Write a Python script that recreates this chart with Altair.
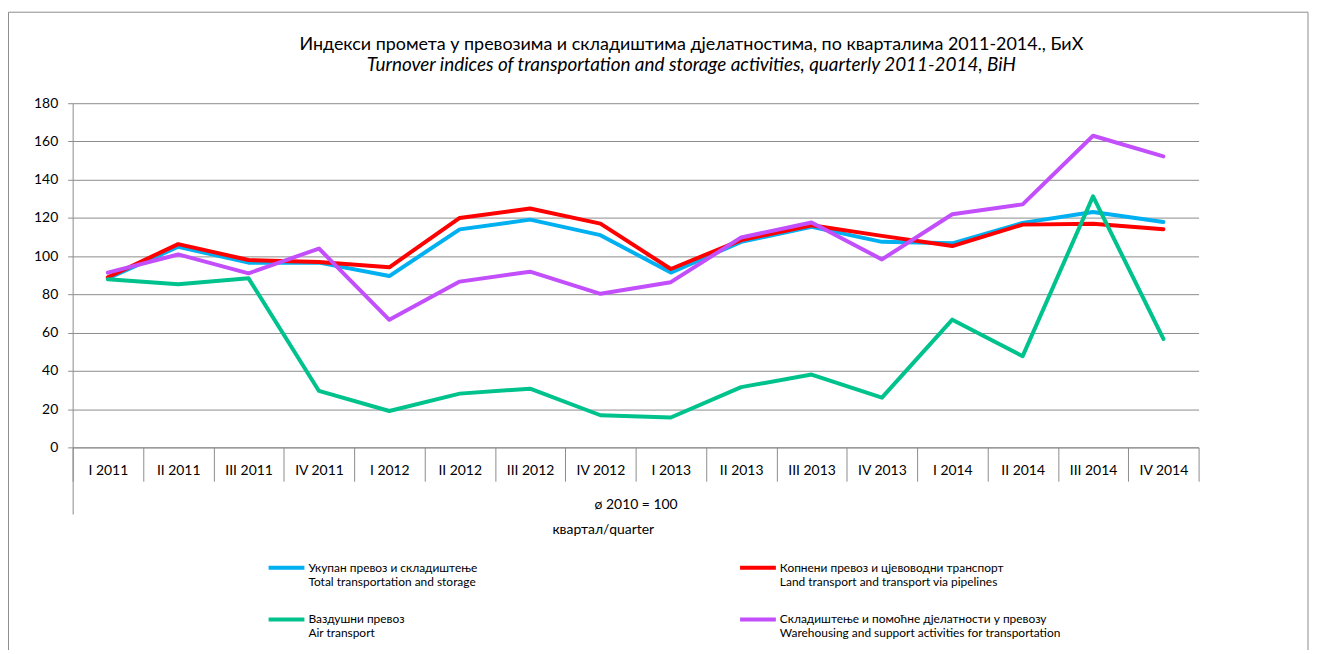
import altair as alt
import pandas as pd

quarters = ["I 2011", "II 2011", "III 2011", "IV 2011", "I 2012", "II 2012", "III 2012", "IV 2012",
            "I 2013", "II 2013", "III 2013", "IV 2013", "I 2014", "II 2014", "III 2014", "IV 2014"]
total = [88.4, 104.9, 96.6, 96.6, 89.6, 114.0, 119.1, 111.0, 91.4, 107.5, 115.3, 107.5, 106.7, 117.4, 123.1, 117.9]
land = [89.0, 106.3, 98.0, 97.0, 94.2, 120.0, 124.9, 117.0, 93.3, 108.4, 116.2, 110.6, 105.3, 116.5, 117.0, 114.1]
air = [87.9, 85.3, 88.4, 29.5, 19.0, 28.1, 30.7, 16.8, 15.6, 31.5, 38.1, 26.0, 66.8, 47.7, 131.3, 56.7]
ware = [91.4, 100.9, 91.0, 104.0, 66.7, 86.7, 91.9, 80.3, 86.4, 109.8, 117.6, 98.3, 121.9, 127.1, 163.0, 152.2]

series_names = [
    "Укупан превоз и складиштење| Total transportation and storage",
    "Копнени превоз и цјевоводни транспорт| Land transport and transport via pipelines",
    "Ваздушни превоз| Air transport",
    "Складиштење и помоћне дјелатности у превозу| Warehousing and support activities for transportation",
]
colors = ["#00B0F0", "#FF0000", "#00C28C", "#C24FFB"]
all_values = [total, land, air, ware]

rows = []
for s, vals in zip(series_names, all_values):
    for i, (q, v) in enumerate(zip(quarters, vals)):
        rows.append({"series": s, "idx": i, "quarter": q, "value": v})
df = pd.DataFrame(rows)

FONT = "Lato"
GRID = "#8c8c8c"
W, H = 1132, 346
n = len(quarters)

label_expr = "[" + ",".join("'" + q + "'" for q in quarters) + "][floor(datum.value)]"
xscale = alt.Scale(domain=[0, n], nice=False, zero=False)
yscale = alt.Scale(domain=[0, 180], nice=False)

base = alt.Chart(df).transform_calculate(xpos="datum.idx + 0.5")

lines = base.mark_line(strokeWidth=4, strokeJoin="round", strokeCap="round").encode(
    x=alt.X("xpos:Q", scale=xscale,
            axis=alt.Axis(orient="bottom", values=[i + 0.5 for i in range(n)], labelExpr=label_expr,
                          ticks=False, tickSize=0, grid=False, domain=True, domainColor=GRID,
                          labelFont=FONT, labelFontSize=14, labelColor="#000", labelPadding=16,
                          title="ø 2010 = 100", titleFont=FONT, titleFontSize=14, titleFontWeight="normal",
                          titleColor="#000", titleY=57, titleBaseline="middle")),
    y=alt.Y("value:Q", scale=yscale,
            axis=alt.Axis(values=list(range(0, 181, 20)), grid=True, gridColor=GRID, gridOpacity=1,
                          tickColor=GRID, tickSize=5, domainColor=GRID, labelFont=FONT,
                          labelFontSize=14, labelColor="#000", labelPadding=10, labelOverlap=False,
                          title=None)),
    color=alt.Color("series:N", sort=series_names,
                    scale=alt.Scale(domain=series_names, range=colors),
                    legend=alt.Legend(orient="none", legendX=195, legendY=447, columns=2,
                                      direction="horizontal",
                                      title=None, symbolType="stroke", symbolSize=1296,
                                      symbolStrokeWidth=4, labelExpr="split(datum.label, '|')",
                                      labelFont=FONT, labelFontSize=12, labelColor="#000",
                                      labelBaseline="middle", labelOffset=2, labelLimit=500,
                                      columnPadding=256, rowPadding=12, padding=0)),
    order=alt.Order("idx:Q"),
)

sep = base.mark_point(opacity=0).encode(
    x=alt.X("xpos:Q", scale=xscale,
            axis=alt.Axis(orient="bottom", values=list(range(n + 1)), labels=False, ticks=True,
                          tickSize=34, tickColor=GRID, domain=False, grid=False, title=None)),
)

outer = base.mark_point(opacity=0).encode(
    x=alt.X("xpos:Q", scale=xscale,
            axis=alt.Axis(orient="bottom", values=[0], labels=False, ticks=True,
                          tickSize=67, tickColor=GRID, domain=False, grid=False,
                          title="квартал/quarter", titleFont=FONT, titleFontSize=14,
                          titleFontWeight="normal", titleColor="#000", titleX=533, titleY=83,
                          titleBaseline="middle", titleAlign="center", titleAnchor="start")),
)

frame = alt.Chart(pd.DataFrame({"a": [0]})).mark_rect(
    fill="transparent", stroke="#8c8c8c", strokeWidth=1
).encode(x=alt.value(-64.5), x2=alt.value(1242), y=alt.value(-91.5), y2=alt.value(600))

chart = alt.layer(frame, lines, sep, outer).resolve_axis(x="independent").properties(
    width=W, height=H,
    autosize=alt.AutoSizeParams(type="none"),
    padding={"left": 65, "top": 94, "right": 111, "bottom": 202},
    title=alt.TitleParams(
        text="Индекси промета у превозима и складиштима дјелатностима, по кварталима 2011-2014., БиХ",
        subtitle="Turnover indices of transportation and storage activities, quarterly 2011-2014, BiH",
        font=FONT, fontSize=18, fontWeight="normal", color="#000",
        subtitleFont=FONT, subtitleFontSize=19, subtitleFontStyle="italic", subtitleColor="#000",
        anchor="middle", frame="group", dx=56, offset=-64, subtitlePadding=3,
    ),
).configure_view(stroke=None)

chart.save("out.html", embed_options={"renderer": "svg", "actions": False})
